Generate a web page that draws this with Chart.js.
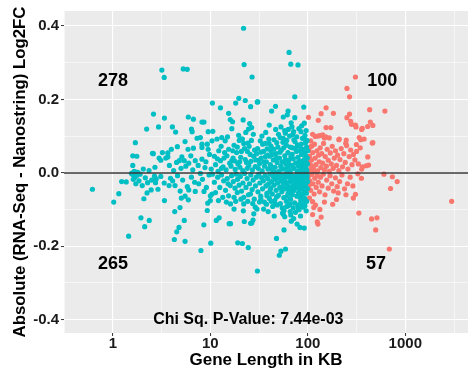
<!DOCTYPE html>
<html>
<head>
<meta charset="utf-8">
<title>Log2FC vs gene length</title>
<script src="https://cdn.jsdelivr.net/npm/chart.js@4"></script>
<style>
  html, body { margin: 0; padding: 0; background: #ffffff; }
  #wrap { width: 472px; height: 372px; }
</style>
</head>
<body>
<div id="wrap"><canvas id="lfcChart" width="472" height="372"></canvas></div>
<script>
// [gene length in KB, log2FC difference] for each gene, split by quadrant
const tealUp = [
  [3.18,0.280],[3.36,0.260],[5.27,0.283],[5.79,0.282],[21.9,0.394],[22.2,0.295],[26.8,0.261],[64.2,0.328],[66.8,0.296],[79.3,0.294],
  [73.5,0.207],[22.8,0.197],[30.6,0.193],[25.9,0.180],[46.6,0.181],[42.5,0.168],[62.7,0.168],[61.6,0.158],[90.9,0.179],[21.7,0.144],
  [40.2,0.130],[73.5,0.150],[2.61,0.160],[2.22,0.119],[2.94,0.125],[3.38,0.149],[4.08,0.125],[4.4,0.111],[5.94,0.152],[6.7,0.146],
  [8.2,0.138],[8.6,0.138],[6.4,0.119],[6.5,0.112],[9.5,0.112],[10.6,0.113],[10.5,0.190],[12.7,0.177],[15.4,0.162],[18.2,0.190],
  [19.6,0.203],[16.0,0.145],[16.9,0.139],[16.6,0.120],[25.3,0.134],[24.6,0.119],[26.5,0.123],[30.3,0.193],[96.0,0.115],[92.0,0.135],
  [1.70,0.082],[1.60,0.046],[1.76,0.045],[1.60,0.020],[2.60,0.052],[2.98,0.040],[3.10,0.034],[2.55,0.053],[3.22,0.055],[1.65,0.004],
  [1.72,0.002],[1.80,0.001],[2.05,0.010],[2.35,0.006],[2.70,0.015],[3.49,0.040],[3.66,0.043],[3.66,0.054],[3.98,0.064],[4.59,0.071],
  [5.5,0.085],[5.9,0.064],[6.7,0.067],[7.3,0.094],[7.9,0.096],[8.2,0.078],[8.2,0.069],[9.3,0.078],[9.5,0.064],[10.4,0.087],
  [11.7,0.092],[13.1,0.096],[14.2,0.087],[5.1,0.043],[4.8,0.033],[5.4,0.033],[6.3,0.046],[7.0,0.033],[8.2,0.037],[12.2,0.060],
  [15.4,0.064],[14.8,0.046],[12.7,0.033],[16.6,0.033],[5.0,0.012],[5.6,0.018],[6.6,0.008],[7.5,0.020],[8.8,0.014],[10.2,0.010],
  [11.3,0.022],[13.5,0.016],[4.2,0.006],[3.8,0.020],[4.5,0.028],[6.0,0.026],[9.0,0.030],[9.8,0.050],[11.0,0.045],[12.9,0.072],
  [17.5,0.075],[18.6,0.055],[19.8,0.088],[20.5,0.042],[21.2,0.092],[22.4,0.066],[23.5,0.028],[24.3,0.081],[25.6,0.050],[27.6,0.105],
  [28.4,0.062],[29.2,0.035],[16.3,0.018],[17.1,0.040],[18.0,0.009],[19.2,0.024],[20.1,0.015],[21.5,0.006],[22.8,0.036],[23.9,0.012],
  [24.8,0.020],[26.1,0.031],[27.0,0.008],[28.9,0.017],[15.0,0.098],[14.0,0.055],[13.0,0.012],[12.0,0.004],[18.9,0.070],[26.4,0.088],
  [20.8,0.058],[22.0,0.080],[25.0,0.072],[29.8,0.052],[19.5,0.102],[23.1,0.110],[17.8,0.032],[15.8,0.026],[14.5,0.008],[11.8,0.038],
  [32.5,0.087],[34.4,0.078],[36.6,0.080],[52.0,0.096],[56.0,0.094],[56.0,0.152],[67.5,0.136],[68.7,0.125],[85.0,0.112],[21.2,0.092],
  [31.0,0.012],[32.0,0.025],[33.2,0.040],[34.0,0.005],[35.1,0.058],[36.0,0.018],[37.5,0.030],[38.2,0.065],[39.0,0.010],[40.5,0.045],
  [41.2,0.022],[42.0,0.072],[43.5,0.008],[44.3,0.035],[45.0,0.090],[46.2,0.015],[47.0,0.052],[48.5,0.028],[49.3,0.070],[50.5,0.004],
  [51.2,0.040],[52.8,0.018],[53.5,0.062],[54.7,0.030],[55.5,0.083],[57.2,0.010],[58.0,0.046],[59.5,0.024],[60.3,0.075],[61.8,0.014],
  [62.5,0.055],[63.9,0.034],[65.0,0.100],[66.2,0.006],[67.0,0.044],[68.5,0.020],[69.8,0.068],[71.0,0.038],[72.3,0.012],[73.8,0.085],
  [75.0,0.026],[76.4,0.058],[77.8,0.004],[79.0,0.042],[80.5,0.018],[82.0,0.072],[83.3,0.032],[84.8,0.010],[86.0,0.050],[87.5,0.022],
  [89.0,0.064],[90.2,0.008],[91.5,0.036],[93.0,0.016],[94.5,0.048],[96.0,0.028],[97.5,0.006],[98.8,0.040],[99.5,0.060],[95.0,0.082],
  [30.5,0.066],[33.8,0.100],[37.0,0.110],[39.8,0.092],[43.0,0.050],[46.8,0.118],[50.0,0.105],[53.0,0.125],[58.8,0.108],[63.0,0.118],
  [70.0,0.104],[77.0,0.098],[81.0,0.120],[88.0,0.094],[93.5,0.102],[98.0,0.088],[35.5,0.030],[41.8,0.060],[48.0,0.082],[54.0,0.010],
  [59.0,0.036],[64.5,0.022],[69.0,0.050],[74.5,0.066],[79.8,0.028],[85.5,0.078],[91.0,0.054],[97.0,0.070],[44.8,0.064],[38.6,0.048],
  [60.8,0.088],[66.0,0.070],[72.0,0.090],[78.2,0.076],[83.8,0.060],[89.8,0.030],[95.8,0.012],[99.0,0.024],[56.6,0.068],[51.8,0.056],
  [47.6,0.040],[42.6,0.016],[40.0,0.080],[36.8,0.044],[33.0,0.056],[31.5,0.034],[45.6,0.002],[62.0,0.002],[80.0,0.003],[92.6,0.092],
  [27.8,0.045],[24.0,0.058],[20.0,0.030],[17.0,0.060],[13.8,0.040],[71.5,0.112],[86.5,0.128],[57.8,0.115]
];

const tealDown = [
  [0.617,-0.045],[1.02,-0.080],[1.15,-0.057],[1.45,-0.173],[1.94,-0.123],[2.36,-0.130],[2.12,-0.147],[1.23,-0.024],[1.37,-0.025],[2.08,-0.071],
  [2.24,-0.055],[2.47,-0.047],[2.27,-0.027],[2.67,-0.009],[2.78,-0.017],[2.74,-0.027],[3.38,-0.076],[4.31,-0.106],[4.88,-0.095],[5.4,-0.130],
  [4.77,-0.149],[4.52,-0.161],[4.27,-0.182],[5.5,-0.187],[8.0,-0.212],[10.1,-0.192],[8.57,-0.142],[11.5,-0.130],[12.3,-0.123],[15.6,-0.139],
  [19.1,-0.191],[21.3,-0.193],[24.5,-0.204],[30.4,-0.268],[22.3,-0.133],[25.9,-0.138],[27.4,-0.129],[9.3,-0.103],[9.4,-0.083],[10.0,-0.076],
  [51.0,-0.225],[53.0,-0.214],[59.0,-0.208],[47.7,-0.179],[26.6,-0.137],[57.0,-0.156],[67.6,-0.132],[83.0,-0.149],[92.0,-0.151],[55.0,-0.110],
  [57.0,-0.103],[66.0,-0.106],[81.4,-0.101],[87.2,-0.092],[90.7,-0.087],[56.0,-0.113],[58.0,-0.120],[16.1,-0.139],[1.60,-0.005],[1.68,-0.012],
  [1.55,-0.002],[1.62,-0.018],[1.75,-0.008],[1.85,-0.022],[1.90,-0.004],[2.00,-0.035],[1.72,-0.030],[2.15,-0.014],[2.50,-0.020],[2.90,-0.045],
  [5.04,-0.069],[5.5,-0.064],[5.94,-0.074],[3.36,-0.028],[3.77,-0.035],[4.34,-0.035],[6.0,-0.047],[7.0,-0.051],[8.6,-0.051],[10.0,-0.063],
  [10.4,-0.058],[11.3,-0.054],[13.4,-0.067],[15.4,-0.063],[16.0,-0.035],[3.1,-0.010],[3.9,-0.015],[4.6,-0.008],[5.2,-0.020],[6.4,-0.012],
  [17.5,-0.067],[18.9,-0.054],[22.0,-0.085],[22.0,-0.067],[25.8,-0.058],[28.9,-0.094],[30.1,-0.099],[35.2,-0.099],[38.1,-0.063],[46.3,-0.085],
  [63.2,-0.090],[65.7,-0.085],[83.0,-0.067],[86.5,-0.063],[89.7,-0.094],[80.0,-0.099],[16.1,-0.085],[17.5,-0.099],[33.0,-0.072],[42.0,-0.078],
  [10.5,-0.004],[11.0,-0.026],[11.9,-0.012],[12.5,-0.040],[13.0,-0.006],[13.7,-0.022],[14.3,-0.048],[14.9,-0.016],[15.2,-0.030],[16.5,-0.008],
  [17.2,-0.024],[17.9,-0.042],[18.4,-0.004],[19.0,-0.018],[19.7,-0.034],[20.3,-0.010],[20.9,-0.050],[21.6,-0.028],[22.5,-0.002],[23.2,-0.040],
  [23.8,-0.016],[24.6,-0.060],[25.2,-0.030],[26.0,-0.006],[26.8,-0.046],[27.5,-0.020],[28.2,-0.072],[29.0,-0.036],[29.6,-0.012],[30.8,-0.052],
  [31.4,-0.004],[32.2,-0.028],[32.9,-0.064],[33.6,-0.014],[34.3,-0.044],[35.0,-0.022],[35.8,-0.080],[36.5,-0.008],[37.2,-0.036],[38.0,-0.056],
  [38.8,-0.016],[39.5,-0.030],[40.3,-0.070],[41.0,-0.004],[41.6,-0.042],[42.4,-0.024],[43.2,-0.058],[44.0,-0.010],[44.9,-0.034],[45.7,-0.076],
  [46.5,-0.018],[47.3,-0.048],[48.2,-0.006],[49.0,-0.028],[49.8,-0.062],[50.7,-0.014],[51.5,-0.040],[52.3,-0.084],[53.2,-0.022],[54.1,-0.052],
  [55.0,-0.008],[55.8,-0.032],[56.7,-0.068],[57.6,-0.016],[58.5,-0.044],[59.3,-0.026],[60.2,-0.078],[61.1,-0.004],[62.0,-0.036],[62.9,-0.056],
  [63.8,-0.012],[64.7,-0.046],[65.6,-0.024],[66.5,-0.072],[67.4,-0.006],[68.4,-0.038],[69.3,-0.060],[70.3,-0.018],[71.2,-0.050],[72.2,-0.030],
  [73.2,-0.082],[74.2,-0.010],[75.2,-0.042],[76.2,-0.022],[77.2,-0.064],[78.3,-0.004],[79.3,-0.034],[80.4,-0.054],[81.5,-0.014],[82.6,-0.044],
  [83.7,-0.026],[84.8,-0.076],[85.9,-0.008],[87.0,-0.038],[88.2,-0.058],[89.3,-0.018],[90.5,-0.048],[91.7,-0.028],[92.9,-0.070],[94.1,-0.004],
  [95.3,-0.036],[96.6,-0.056],[97.8,-0.014],[99.0,-0.044],[99.6,-0.024],[93.6,-0.090],[88.7,-0.080],[78.8,-0.090],[70.8,-0.096],[60.7,-0.092],
  [54.6,-0.096],[48.6,-0.088],[43.6,-0.092],[37.6,-0.086],[31.9,-0.080],[27.2,-0.084],[24.2,-0.078],[20.6,-0.072],[18.2,-0.078],[14.6,-0.080],
  [12.1,-0.076],[7.6,-0.030],[8.3,-0.018],[9.1,-0.040],[9.7,-0.006],[6.9,-0.026],[7.9,-0.002],[5.8,-0.038],[4.9,-0.050],[4.1,-0.022],
  [66.9,-0.115],[74.8,-0.108],[84.2,-0.118],[96.2,-0.104],[45.2,-0.118],[39.2,-0.106],[27.9,-0.112],[21.8,-0.104],[71.6,-0.125],[77.6,-0.140],
  [50.2,-0.002],[58.1,-0.006],[64.2,-0.002],[69.8,-0.010],[76.8,-0.016],[85.2,-0.002],[91.2,-0.012],[98.2,-0.006],[40.8,-0.050],[47.8,-0.066],
  [53.8,-0.044],[61.6,-0.064],[68.0,-0.050],[82.0,-0.086],[97.4,-0.078]
];

const salmonUp = [
  [308,0.261],[252,0.230],[268,0.207],[431,0.172],[618,0.168],[154,0.177],[137,0.161],[183,0.162],[101.6,0.151],[128,0.143],
  [252,0.150],[268,0.160],[281,0.132],[312,0.125],[308,0.130],[357,0.118],[411,0.126],[465,0.129],[438,0.138],[154,0.123],
  [172,0.123],[464,0.082],[349,0.090],[208,0.090],[248,0.089],[315,0.077],[119,0.099],[133,0.101],[148,0.095],[166,0.095],
  [107,0.087],[110,0.073],[397,0.019],[420,0.021],[412,0.043],[458,0.081],[357,0.010],[364,0.016],[105,0.008],[108,0.020],
  [112,0.105],[127,0.100],[142,0.103],[153,0.098],[210,0.092],[245,0.080],[337,0.096],[378,0.092],[362,0.121],[275,0.140],
  [102,0.062],[104,0.045],[106,0.070],[109,0.035],[112,0.055],[114,0.012],[117,0.078],[119,0.040],[121,0.022],[124,0.060],
  [126,0.005],[129,0.048],[131,0.030],[134,0.068],[136,0.014],[139,0.052],[142,0.026],[145,0.080],[148,0.008],[151,0.044],
  [155,0.018],[158,0.064],[162,0.034],[166,0.004],[170,0.054],[174,0.024],[178,0.072],[182,0.012],[187,0.040],[192,0.060],
  [197,0.020],[202,0.048],[208,0.006],[214,0.036],[220,0.066],[227,0.016],[234,0.052],[242,0.028],[250,0.074],[258,0.010],
  [266,0.044],[275,0.062],[284,0.022],[294,0.050],[304,0.035],[316,0.058],[330,0.024],[345,0.068],[103,0.028],[116,0.003]
];

const salmonDown = [
  [2991,-0.078],[604,-0.004],[737,-0.011],[826,-0.024],[706,-0.043],[686,-0.208],[497,-0.156],[451,-0.126],[512,-0.123],[334,-0.110],
  [308,-0.059],[293,-0.069],[197,-0.073],[133,-0.100],[137,-0.121],[125,-0.134],[127,-0.140],[112,-0.114],[112,-0.079],[104,-0.069],
  [326,-0.003],[101,-0.010],[103,-0.035],[105,-0.022],[107,-0.048],[110,-0.005],[113,-0.030],[116,-0.058],[118,-0.015],[122,-0.040],
  [125,-0.008],[128,-0.026],[132,-0.052],[135,-0.012],[140,-0.036],[144,-0.004],[150,-0.060],[156,-0.020],[162,-0.042],[169,-0.008],
  [176,-0.030],[184,-0.050],[192,-0.014],[200,-0.038],[212,-0.024],[224,-0.006],[238,-0.044],[255,-0.030],[272,-0.012],[290,-0.036],
  [355,-0.015],[246,-0.060],[180,-0.086],[120,-0.088],[148,-0.080],[205,-0.055],[115,-0.095]
];

const pValueText = 'Chi Sq. P-Value: 7.44e-03';

// axis breaks
const xBreaks = [1, 10, 100, 1000];
const xMinorBreaks = [0.3162, 3.162, 31.62, 316.2, 3162];
const yBreaks = [-0.4, -0.2, 0, 0.2, 0.4];
const yMinorBreaks = [-0.3, -0.1, 0.1, 0.3];

const FONT = "'Liberation Sans', Arial, Helvetica, sans-serif";
Chart.defaults.font.family = FONT;

const toPoints = rows => rows.map(([x, y]) => ({ x: x, y: y }));

// quadrant counts and the p-value go on top of the points
const notes = [
  { text: String(tealUp.length), x: 1, y: 0.25, size: 18 },
  { text: String(salmonUp.length), x: 580, y: 0.25, size: 18 },
  { text: String(tealDown.length), x: 1, y: -0.25, size: 18 },
  { text: String(salmonDown.length), x: 500, y: -0.25, size: 18 },
  { text: pValueText, x: 24.5, y: -0.4, size: 16 }
];

const panelBg = {
  id: 'panelBg',
  beforeDraw(chart) {
    const { ctx, chartArea: a } = chart;
    ctx.save();
    ctx.fillStyle = '#EBEBEB';
    ctx.fillRect(a.left, a.top, a.right - a.left, a.bottom - a.top);
    ctx.restore();
  }
};

const overlay = {
  id: 'overlay',
  afterDatasetsDraw(chart) {
    const { ctx, chartArea: a, scales } = chart;
    ctx.save();
    // reference line at zero
    const y0 = Math.round(scales.y.getPixelForValue(0));
    ctx.strokeStyle = '#3A3A3A';
    ctx.lineWidth = 1.4;
    ctx.beginPath();
    ctx.moveTo(a.left, y0);
    ctx.lineTo(a.right, y0);
    ctx.stroke();

    ctx.fillStyle = '#000000';
    ctx.textAlign = 'center';
    ctx.textBaseline = 'middle';
    notes.forEach(n => {
      ctx.font = 'bold ' + n.size + 'px ' + FONT;
      ctx.fillText(n.text, scales.x.getPixelForValue(n.x), scales.y.getPixelForValue(n.y));
    });
    ctx.restore();
  }
};

const isMajor = (list, tick) => tick && list.includes(tick.value);

new Chart(document.getElementById('lfcChart').getContext('2d'), {
  type: 'scatter',
  data: {
    datasets: [
      {
        label: 'short',
        data: toPoints(tealUp.concat(tealDown)),
        backgroundColor: '#00BFC4',
        borderWidth: 0,
        pointRadius: 2.6
      },
      {
        label: 'long',
        data: toPoints(salmonUp.concat(salmonDown)),
        backgroundColor: '#F8766D',
        borderWidth: 0,
        pointRadius: 2.6
      }
    ]
  },
  options: {
    responsive: false,
    animation: false,
    devicePixelRatio: 1,
    events: [],
    layout: { padding: { top: 10, right: 1, left: 0, bottom: 0 } },
    plugins: {
      legend: { display: false },
      tooltip: { enabled: false }
    },
    scales: {
      x: {
        type: 'logarithmic',
        min: 0.315,
        max: 4400,
        bounds: 'data',
        afterBuildTicks: s => {
          s.ticks = xMinorBreaks.concat(xBreaks).sort((a, b) => a - b).map(v => ({ value: v }));
        },
        afterFit: s => { s.height = 39; },
        border: { display: false },
        grid: {
          color: '#FFFFFF',
          lineWidth: c => isMajor(xBreaks, c.tick) ? 1.1 : 0.55,
          tickColor: c => isMajor(xBreaks, c.tick) ? '#333333' : 'rgba(0,0,0,0)',
          tickLength: 3,
          tickWidth: 1
        },
        ticks: {
          autoSkip: false,
          maxRotation: 0,
          padding: -1,
          color: '#1A1A1A',
          font: { size: 15, weight: 'bold' },
          callback: v => xBreaks.includes(v) ? String(v) : ''
        },
        title: {
          display: true,
          text: 'Gene Length in KB',
          color: '#000000',
          font: { size: 17, weight: 'bold' },
          padding: { top: 0, bottom: 1 }
        }
      },
      y: {
        type: 'linear',
        min: -0.437,
        max: 0.441,
        bounds: 'data',
        afterBuildTicks: s => {
          s.ticks = yMinorBreaks.concat(yBreaks).sort((a, b) => a - b).map(v => ({ value: v }));
        },
        afterFit: s => { s.width = 64; },
        border: { display: false },
        grid: {
          color: '#FFFFFF',
          lineWidth: c => isMajor(yBreaks, c.tick) ? 1.1 : 0.55,
          tickColor: c => isMajor(yBreaks, c.tick) ? '#333333' : 'rgba(0,0,0,0)',
          tickLength: 3,
          tickWidth: 1
        },
        ticks: {
          autoSkip: false,
          padding: 2,
          color: '#1A1A1A',
          font: { size: 15, weight: 'bold' },
          callback: v => yBreaks.includes(v) ? v.toFixed(1) : ''
        },
        title: {
          display: true,
          text: 'Absolute (RNA-Seq - Nanostring) Log2FC',
          color: '#000000',
          font: { size: 16.8, weight: 'bold' },
          padding: { top: 10, bottom: 0 }
        }
      }
    }
  },
  plugins: [panelBg, overlay]
});
</script>
</body>
</html>
